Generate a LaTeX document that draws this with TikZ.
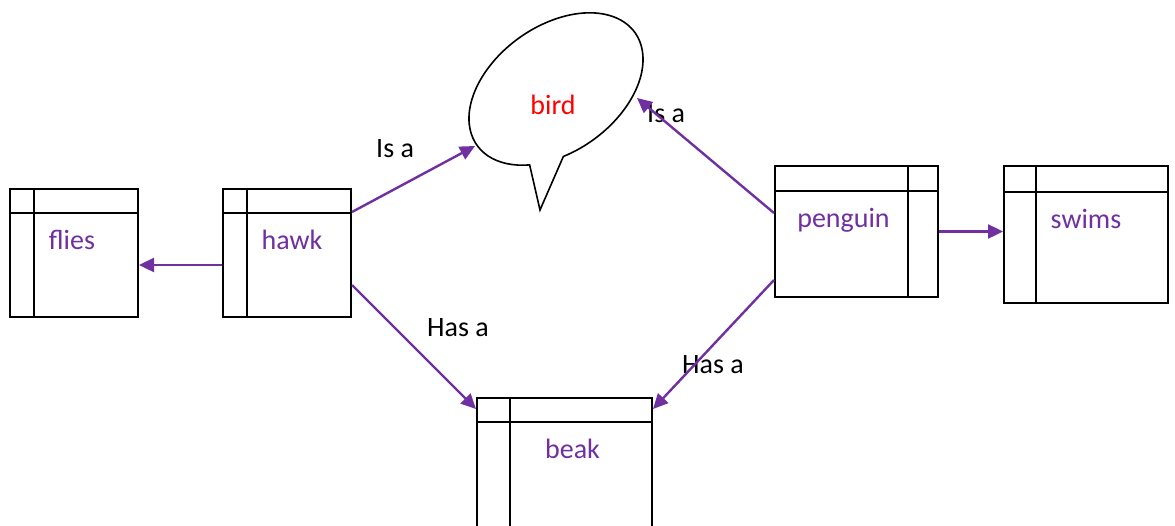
\documentclass[tikz,border=0pt]{standalone}
\usepackage{fontspec}
\setmainfont{Carlito}
\usetikzlibrary{arrows.meta}
\definecolor{vio}{HTML}{7030A0}
\begin{document}
\begin{tikzpicture}[x=1pt,y=1pt,
  tbox/.style={draw=black,line width=2pt,fill=white,inner sep=0pt},
  rule/.style={draw=black,line width=2pt},
  boxtext/.style={text=vio,anchor=base,inner sep=0pt,font=\fontsize{28}{32}\selectfont},
  lbl/.style={text=black,anchor=base west,inner sep=0pt,font=\fontsize{28}{32}\selectfont},
  link/.style={draw=vio,line width=2.4pt,-{Triangle[length=15pt,width=14pt]}}]
\useasboundingbox (0,0) rectangle (1175,-525);
\clip (0,0) rectangle (1175,-525);

% table-like boxes
\node[tbox,minimum width=128pt,minimum height=128pt] (flies) at (74,-253) {};
\node[tbox,minimum width=128pt,minimum height=128pt] (hawk) at (287,-253) {};
\node[tbox,minimum width=163pt,minimum height=131pt] (penguin) at (856.5,-231.5) {};
\node[tbox,minimum width=164pt,minimum height=137pt] (swims) at (1086,-234.5) {};
\node[tbox,minimum width=175pt,minimum height=140pt] (beak) at (564.5,-468) {};

% inner rules
\draw[rule] ([xshift=25]flies.north west) -- ([xshift=25]flies.south west);
\draw[rule] ([yshift=-25]flies.north west) -- ([yshift=-25]flies.north east);
\draw[rule] ([xshift=25]hawk.north west) -- ([xshift=25]hawk.south west);
\draw[rule] ([yshift=-25]hawk.north west) -- ([yshift=-25]hawk.north east);
\draw[rule] ([xshift=-31]penguin.north east) -- ([xshift=-31]penguin.south east);
\draw[rule] ([yshift=-26]penguin.north west) -- ([yshift=-26]penguin.north east);
\draw[rule] ([xshift=33]swims.north west) -- ([xshift=33]swims.south west);
\draw[rule] ([yshift=-27]swims.north west) -- ([yshift=-27]swims.north east);
\draw[rule] ([xshift=34]beak.north west) -- ([xshift=34]beak.south west);
\draw[rule] ([yshift=-25]beak.north west) -- ([yshift=-25]beak.north east);

% box captions
\node[boxtext] (fliestxt) at (72,-249) {flies};
\node[boxtext] (hawktxt) at (292,-249) {hawk};
\node[boxtext] (penguintxt) at (843.5,-227) {penguin};
\node[boxtext] (swimstxt) at (1086,-228) {swims};
\node[boxtext] (beaktxt) at (572.5,-458) {beak};

% speech bubble
\coordinate (tip) at (540,-210);
\coordinate (birdL) at (475,-146);
\coordinate (birdR) at (637,-98);
\begin{scope}[shift={(556,-89)},rotate=35.5]
  \draw[line width=1.6pt,fill=white,line join=miter]
    (250:97 and 63) arc[start angle=250,end angle=587.5,x radius=97,y radius=63]
    -- (tip) -- cycle;
\end{scope}
\node[anchor=base,inner sep=0pt,text=red,font=\fontsize{28}{32}\selectfont] (birdtxt) at (553,-114) {bird};

% relation labels
\node[lbl] (isa1) at (376,-157) {Is a};
\node[lbl] (isa2) at (647,-122) {Is a};
\node[lbl] (hasa1) at (427,-336) {Has a};
\node[lbl] (hasa2) at (682,-373) {Has a};

% connectors
\draw[link] ([yshift=41]hawk.east) -- (birdL);
\draw[link] ([yshift=18.5]penguin.west) -- (birdR);
\draw[link] ([yshift=-32]hawk.east) -- ([yshift=-12]beak.north west);
\draw[link] ([yshift=-48.5]penguin.west) -- ([yshift=-12]beak.north east);
\draw[link] ([yshift=-12]hawk.west) -- ([yshift=-12]flies.east);
\draw[link] (penguin.east) -- (swims.west |- penguin.east);
\end{tikzpicture}
\end{document}
